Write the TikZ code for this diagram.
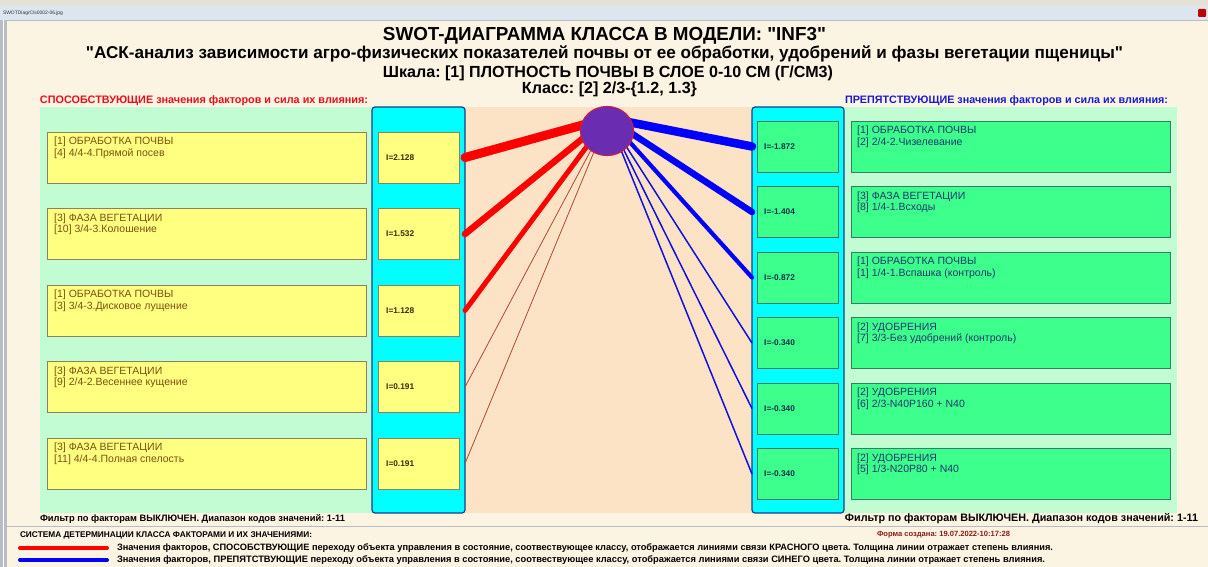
\documentclass[tikz,border=0pt]{standalone}
\usepackage{fontspec}
\setmainfont{Liberation Sans}
\newfontfamily\nqf{Liberation Sans}
\usetikzlibrary{calc,shapes.geometric}
\definecolor{cream}{HTML}{FCF4E3}
\definecolor{topstrip}{HTML}{E4E2D6}
\definecolor{titlebar}{HTML}{DCE6F0}
\definecolor{bordergray}{HTML}{B8BCC4}
\definecolor{lgreen}{HTML}{C2FCD2}
\definecolor{cyanp}{HTML}{00FFFF}
\definecolor{cyanborder}{HTML}{1A3C8C}
\definecolor{peach}{HTML}{FCE3C6}
\definecolor{ybox}{HTML}{FFFF80}
\definecolor{yborder}{HTML}{8C8060}
\definecolor{gbox}{HTML}{3CFF8C}
\definecolor{gborder}{HTML}{3A7A6A}
\definecolor{ytext}{HTML}{7A5010}
\definecolor{gtext}{HTML}{1F3870}
\definecolor{yval}{HTML}{3A2A10}
\definecolor{gval}{HTML}{14304A}
\definecolor{hdrred}{HTML}{E8101A}
\definecolor{hdrblue}{HTML}{1A1AD0}
\definecolor{linered}{HTML}{FF0000}
\definecolor{thinred}{HTML}{B04A30}
\definecolor{lineblue}{HTML}{0000FF}
\definecolor{thinblue}{HTML}{1010E0}
\definecolor{clsfill}{HTML}{6A2CB0}
\definecolor{clsdraw}{HTML}{C02050}
\definecolor{formred}{HTML}{8B1A1A}
\newcommand{\fitw}[2]{\resizebox{#1}{!}{#2}}
\begin{document}
\frenchspacing
\begin{tikzpicture}[x=1pt,y=-1pt,
  panel/.style={anchor=north west,inner sep=0,outer sep=0},
  yellowbox/.style={anchor=north west,inner sep=0,outer sep=0,fill=ybox,draw=yborder,line width=0.8pt,minimum height=51pt},
  greenbox/.style={anchor=north west,inner sep=0,outer sep=0,fill=gbox,draw=gborder,line width=0.8pt,minimum height=51pt},
  btext/.style={anchor=north west,inner sep=0,align=left,font=\fontsize{10.5}{11.5}\selectfont},
  ivaltext/.style={anchor=west,inner sep=0,font=\bfseries\fontsize{8.3}{9}\selectfont},
  redlink/.style={draw=linered,line cap=round},
  thinredlink/.style={draw=thinred,line width=0.8pt},
  bluelink/.style={draw=lineblue,line cap=round},
  thinbluelink/.style={draw=thinblue,line width=1.5pt},
  plain/.style={inner sep=0,outer sep=0}
]
\useasboundingbox (0,0) rectangle (1208,567);
% window frame
\fill[cream] (0,0) rectangle (1208,567);
\fill[topstrip] (0,0) rectangle (1208,6);
\fill[titlebar] (0,6) rectangle (1208,20);
\draw[bordergray,line width=0.6pt] (0,20) -- (1208,20);
\fill[bordergray] (0,20) rectangle (7,567);
\draw[white,line width=0.8pt] (3,20) -- (3,567);
\node[plain,anchor=west,text=black!80] (wintitle) at (3,13.5) {\fitw{60pt}{SWOTDiagrCls0002-06.jpg}};
\node[plain,fill=red!75!black,rounded corners=1pt,minimum width=8pt,minimum height=8pt] (closebtn) at (1202,13) {};

% headings
\node[plain] (title) at (604.5,36) {\fitw{443pt}{\nqf\bfseries SWOT-ДИАГРАММА КЛАССА В МОДЕЛИ: "INF3"}};
\node[plain] (subtitle) at (604.5,53.5) {\fitw{1037pt}{\nqf\bfseries "АСК-анализ зависимости агро-физических показателей почвы от ее обработки, удобрений и фазы вегетации пщеницы"}};
\node[plain] (scale) at (608,73.5) {\fitw{450pt}{\bfseries Шкала: [1] ПЛОТНОСТЬ ПОЧВЫ В СЛОЕ 0-10 СМ (Г/СМ3)}};
\node[plain] (klass) at (609.5,89) {\fitw{175pt}{\bfseries Класс: [2] 2/3-\{1.2, 1.3\}}};
\node[plain,anchor=west,text=hdrred] (lhdr) at (40,100.5) {\fitw{328pt}{\bfseries СПОСОБСТВУЮЩИЕ значения факторов и сила их влияния:}};
\node[plain,anchor=west,text=hdrblue] (rhdr) at (845,100.5) {\fitw{323pt}{\bfseries ПРЕПЯТСТВУЮЩИЕ значения факторов и сила их влияния:}};

% panels
\node[panel,fill=lgreen,minimum width=334pt,minimum height=406pt] (lgp) at (40,107) {};
\node[panel,fill=peach,minimum width=288pt,minimum height=406pt] (mid) at (465,107) {};
\node[panel,fill=lgreen,minimum width=333pt,minimum height=406pt] (rgp) at (844,107) {};
\node[panel,fill=cyanp,draw=cyanborder,line width=1.2pt,rounded corners=3pt,minimum width=93pt,minimum height=406pt] (lcyan) at (372,107) {};
\node[panel,fill=cyanp,draw=cyanborder,line width=1.2pt,rounded corners=3pt,minimum width=92pt,minimum height=406pt] (rcyan) at (752,107) {};

% left boxes
\node[yellowbox,minimum width=319pt] (lb1) at (47,132) {};
\node[yellowbox,minimum width=319pt] (lb2) at (47,208.5) {};
\node[yellowbox,minimum width=319pt] (lb3) at (47,285) {};
\node[yellowbox,minimum width=319pt] (lb4) at (47,361.5) {};
\node[yellowbox,minimum width=319pt] (lb5) at (47,438) {};
\node[btext,text=ytext] (lt1) at ($(lb1.north west)+(7,5)$) {[1] ОБРАБОТКА ПОЧВЫ\\{[4] 4/4-4.Прямой посев}};
\node[btext,text=ytext] (lt2) at ($(lb2.north west)+(7,5)$) {[3] ФАЗА ВЕГЕТАЦИИ\\{[10] 3/4-3.Колошение}};
\node[btext,text=ytext] (lt3) at ($(lb3.north west)+(7,5)$) {[1] ОБРАБОТКА ПОЧВЫ\\{[3] 3/4-3.Дисковое лущение}};
\node[btext,text=ytext] (lt4) at ($(lb4.north west)+(7,5)$) {[3] ФАЗА ВЕГЕТАЦИИ\\{[9] 2/4-2.Весеннее кущение}};
\node[btext,text=ytext] (lt5) at ($(lb5.north west)+(7,5)$) {[3] ФАЗА ВЕГЕТАЦИИ\\{[11] 4/4-4.Полная спелость}};

\node[yellowbox,minimum width=81pt] (li1) at (378,132) {};
\node[yellowbox,minimum width=81pt] (li2) at (378,208.5) {};
\node[yellowbox,minimum width=81pt] (li3) at (378,285) {};
\node[yellowbox,minimum width=81pt] (li4) at (378,361.5) {};
\node[yellowbox,minimum width=81pt] (li5) at (378,438) {};
\node[ivaltext,text=yval] (lv1) at ($(li1.west)+(8,0)$) {I=2.128};
\node[ivaltext,text=yval] (lv2) at ($(li2.west)+(8,0)$) {I=1.532};
\node[ivaltext,text=yval] (lv3) at ($(li3.west)+(8,0)$) {I=1.128};
\node[ivaltext,text=yval] (lv4) at ($(li4.west)+(8,0)$) {I=0.191};
\node[ivaltext,text=yval] (lv5) at ($(li5.west)+(8,0)$) {I=0.191};

% right boxes
\node[greenbox,minimum width=81pt] (ri1) at (757,121) {};
\node[greenbox,minimum width=81pt] (ri2) at (757,186.5) {};
\node[greenbox,minimum width=81pt] (ri3) at (757,252) {};
\node[greenbox,minimum width=81pt] (ri4) at (757,317.5) {};
\node[greenbox,minimum width=81pt] (ri5) at (757,383) {};
\node[greenbox,minimum width=81pt] (ri6) at (757,448.5) {};
\node[ivaltext,text=gval] (rv1) at ($(ri1.west)+(7,0)$) {I=-1.872};
\node[ivaltext,text=gval] (rv2) at ($(ri2.west)+(7,0)$) {I=-1.404};
\node[ivaltext,text=gval] (rv3) at ($(ri3.west)+(7,0)$) {I=-0.872};
\node[ivaltext,text=gval] (rv4) at ($(ri4.west)+(7,0)$) {I=-0.340};
\node[ivaltext,text=gval] (rv5) at ($(ri5.west)+(7,0)$) {I=-0.340};
\node[ivaltext,text=gval] (rv6) at ($(ri6.west)+(7,0)$) {I=-0.340};

\node[greenbox,minimum width=319pt] (rb1) at (851,121) {};
\node[greenbox,minimum width=319pt] (rb2) at (851,186.5) {};
\node[greenbox,minimum width=319pt] (rb3) at (851,252) {};
\node[greenbox,minimum width=319pt] (rb4) at (851,317.5) {};
\node[greenbox,minimum width=319pt] (rb5) at (851,383) {};
\node[greenbox,minimum width=319pt] (rb6) at (851,448.5) {};
\node[btext,text=gtext] (rt1) at ($(rb1.north west)+(6,5)$) {[1] ОБРАБОТКА ПОЧВЫ\\{[2] 2/4-2.Чизелевание}};
\node[btext,text=gtext] (rt2) at ($(rb2.north west)+(6,5)$) {[3] ФАЗА ВЕГЕТАЦИИ\\{[8] 1/4-1.Всходы}};
\node[btext,text=gtext] (rt3) at ($(rb3.north west)+(6,5)$) {[1] ОБРАБОТКА ПОЧВЫ\\{[1] 1/4-1.Вспашка (контроль)}};
\node[btext,text=gtext] (rt4) at ($(rb4.north west)+(6,5)$) {[2] УДОБРЕНИЯ\\{[7] 3/3-Без удобрений (контроль)}};
\node[btext,text=gtext] (rt5) at ($(rb5.north west)+(6,5)$) {[2] УДОБРЕНИЯ\\{[6] 2/3-N40P160 + N40}};
\node[btext,text=gtext] (rt6) at ($(rb6.north west)+(6,5)$) {[2] УДОБРЕНИЯ\\{[5] 1/3-N20P80 + N40}};

% connectors
\coordinate (hub) at (608,118);
\coordinate (le1) at (li1.east -| lcyan.east);
\coordinate (le2) at (li2.east -| lcyan.east);
\coordinate (le3) at (li3.east -| lcyan.east);
\coordinate (le4) at (li4.east -| lcyan.east);
\coordinate (le5) at (li5.east -| lcyan.east);
\coordinate (re1) at (ri1.west -| rcyan.west);
\coordinate (re2) at (ri2.west -| rcyan.west);
\coordinate (re3) at (ri3.west -| rcyan.west);
\coordinate (re4) at (ri4.west -| rcyan.west);
\coordinate (re5) at (ri5.west -| rcyan.west);
\coordinate (re6) at (ri6.west -| rcyan.west);
\draw[redlink,line width=9pt] (le1) -- (hub);
\draw[redlink,line width=6.5pt] (le2) -- (hub);
\draw[redlink,line width=5pt] (le3) -- (hub);
\draw[thinredlink] (le4) -- (hub);
\draw[thinredlink] (le5) -- (hub);
\draw[bluelink,line width=8.5pt] (re1) -- (hub);
\draw[bluelink,line width=6.5pt] (re2) -- (hub);
\draw[bluelink,line width=4.2pt] (re3) -- (hub);
\draw[thinbluelink] (re4) -- (hub);
\draw[thinbluelink] (re5) -- (hub);
\draw[thinbluelink] (re6) -- (hub);
\node[ellipse,plain,minimum width=53pt,minimum height=49pt,fill=clsfill,draw=clsdraw,line width=1.2pt] (cls) at (607,131) {};

% footer
\node[plain,anchor=west] (filtl) at (40,519) {\fitw{305pt}{\bfseries Фильтр по факторам ВЫКЛЮЧЕН. Диапазон кодов значений: 1-11}};
\node[plain,anchor=east] (filtr) at (1198,519) {\fitw{353pt}{\bfseries Фильтр по факторам ВЫКЛЮЧЕН. Диапазон кодов значений: 1-11}};
\draw[bordergray,line width=0.8pt] (7,526) -- (1208,526);
\node[plain,anchor=west] (sys) at (20,535) {\fitw{292pt}{\bfseries СИСТЕМА ДЕТЕРМИНАЦИИ КЛАССА ФАКТОРАМИ И ИХ ЗНАЧЕНИЯМИ:}};
\node[plain,text=formred] (form) at (943.5,535) {\fitw{133pt}{\bfseries Форма создана: 19.07.2022-10:17:28}};
\coordinate (lr1) at (20,548);
\coordinate (lr2) at (107,548);
\coordinate (lb1a) at (20,560);
\coordinate (lb2a) at (107,560);
\draw[draw=linered,line width=4pt,line cap=round] (lr1) -- (lr2);
\draw[draw=lineblue,line width=4pt,line cap=round] (lb1a) -- (lb2a);
\node[plain,anchor=west] (legr) at (117,548) {\fitw{936pt}{\bfseries Значения факторов, СПОСОБСТВУЮЩИЕ переходу объекта управления в состояние, соотвествующее классу, отображается линиями связи КРАСНОГО цвета. Толщина линии отражает степень влияния.}};
\node[plain,anchor=west] (legb) at (117,560) {\fitw{928pt}{\bfseries Значения факторов, ПРЕПЯТСТВУЮЩИЕ переходу объекта управления в состояние, соотвествующее классу, отображается линиями связи СИНЕГО цвета. Толщина линии отражает степень влияния.}};
\end{tikzpicture}
\end{document}
